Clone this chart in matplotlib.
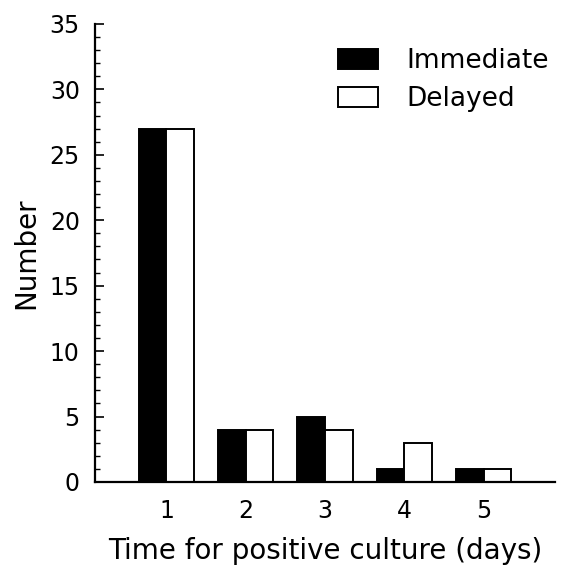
import matplotlib.pyplot as plt
import numpy as np

# Data
days = [1, 2, 3, 4, 5]
immediate = [27, 4, 5, 1, 1]
delayed = [27, 4, 4, 3, 1]

fig = plt.figure(figsize=(5.76, 5.65), dpi=100)
ax = fig.add_axes([0.165, 0.147, 0.7985, 0.8106])

w = 0.35
x = np.array(days)
ax.bar(x - w / 2, immediate, w, color='black', edgecolor='black', linewidth=1.4, label='Immediate')
ax.bar(x + w / 2, delayed, w, color='white', edgecolor='black', linewidth=1.4, label='Delayed')

ax.set_xlim(0.1, 5.9)
ax.set_ylim(0, 35)
ax.set_xticks(days)
ax.set_yticks(range(0, 36, 5))
ax.set_yticks(range(0, 36), minor=True)

for s in ['top', 'right']:
    ax.spines[s].set_visible(False)
for s in ['left', 'bottom']:
    ax.spines[s].set_linewidth(1.6)

ax.tick_params(axis='y', which='major', direction='in', length=6.5, width=1.2, labelsize=17, pad=11)
ax.tick_params(axis='y', which='minor', direction='in', length=3.6, width=1.0)
ax.tick_params(axis='x', which='major', length=0, labelsize=17, pad=12)

ax.set_xlabel('Time for positive culture (days)', fontsize=20, labelpad=10)
ax.set_ylabel('Number', fontsize=20, labelpad=7)

ax.legend(loc='upper left', bbox_to_anchor=(338 / 576, 1 - 48 / 565),
          bbox_transform=fig.transFigure, frameon=False, fontsize=19,
          borderpad=0, borderaxespad=0,
          handlelength=1.52, handleheight=0.76, handletextpad=1.06, labelspacing=0.47)

fig.savefig('out.png', dpi=100)
